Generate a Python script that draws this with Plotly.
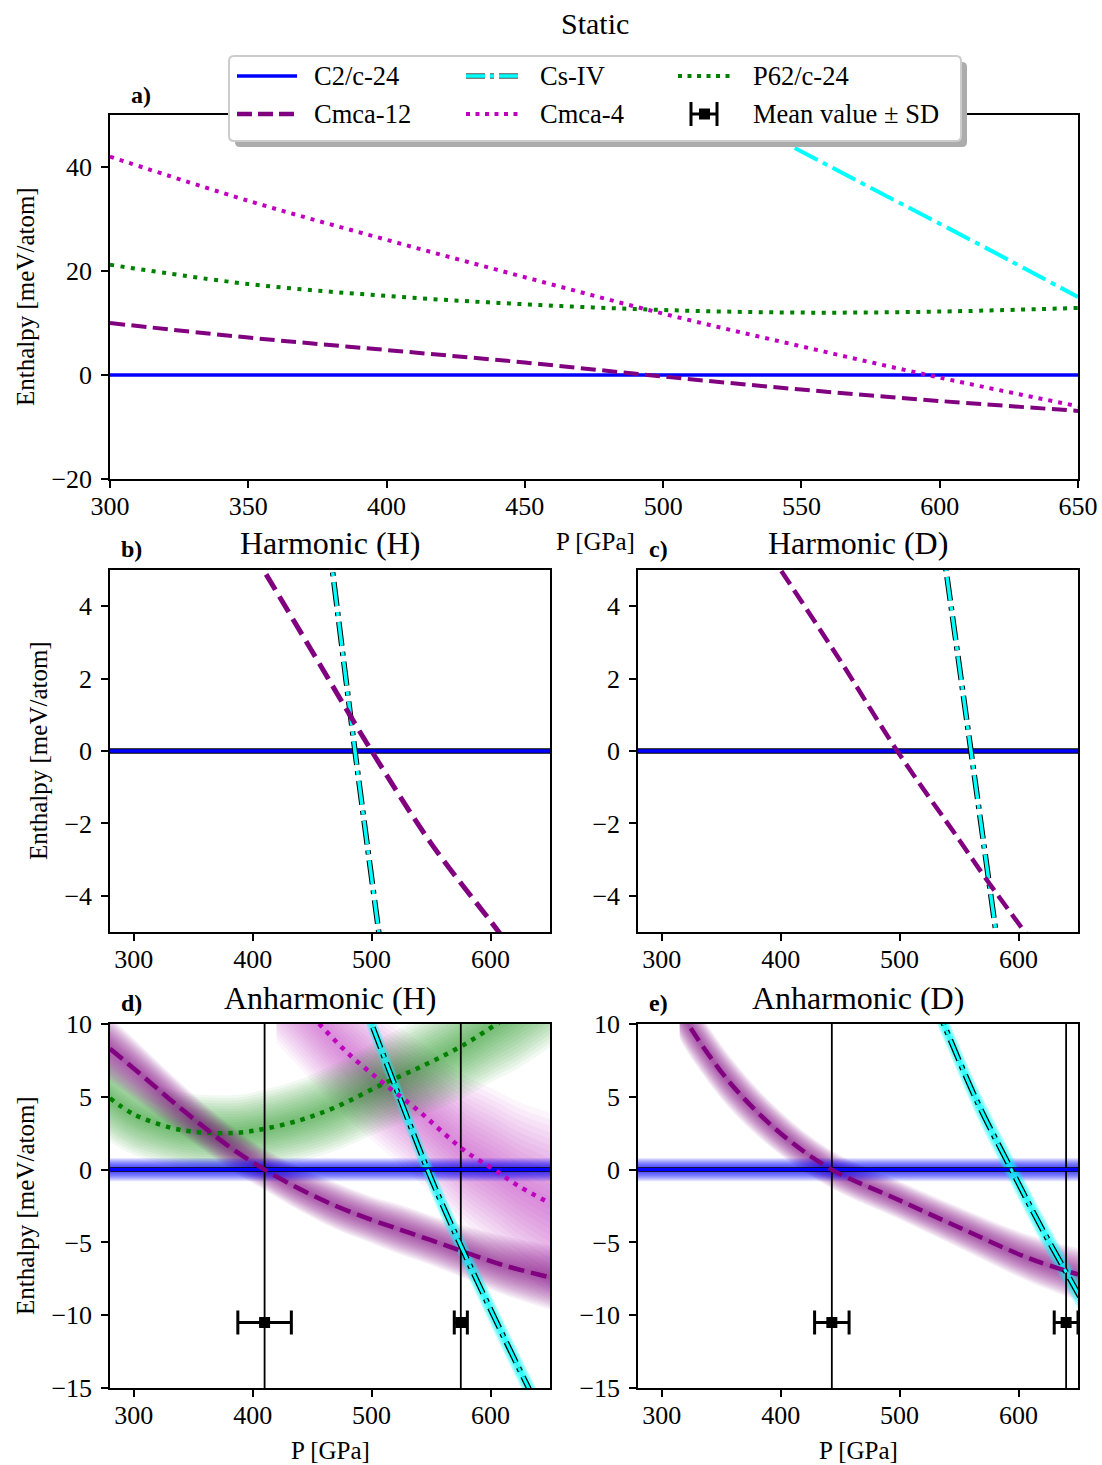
import plotly.graph_objects as go

W, H = 1102, 1465
FONT = "Liberation Serif"

# ---------------- data: enthalpy relative to C2/c-24 [meV/atom] vs P [GPa] ----------------
# a) static
static_p = [300, 350, 400, 450, 500, 550, 600, 650]
static_c2c = [0, 0, 0, 0, 0, 0, 0, 0]
static_cmca12 = [10.0, 7.2, 4.8, 2.4, -0.3, -2.8, -5.0, -6.9]
static_cmca4 = [42.0, 33.5, 26.0, 18.8, 11.8, 5.5, -0.5, -6.0]
static_p62 = [21.2, 17.5, 15.2, 13.6, 12.5, 12.0, 12.2, 12.9]
static_csiv_p = [520, 550, 575, 600, 625, 650]
static_csiv = [51.5, 43.0, 36.0, 29.1, 22.1, 15.0]

# b) harmonic (H)
harmH_c2c_p = [280, 650]
harmH_c2c = [0, 0]
harmH_cmca12_p = [400, 450, 500, 550, 600, 615]
harmH_cmca12 = [5.5, 2.75, 0.0, -2.55, -4.7, -5.35]
harmH_csiv_p = [460, 467, 486, 506, 512]
harmH_csiv = [6.85, 5.0, 0.0, -5.0, -6.5]

# c) harmonic (D)
harmD_c2c_p = [280, 650]
harmD_c2c = [0, 0]
harmD_cmca12_p = [390, 400, 450, 498, 550, 572, 612]
harmD_cmca12 = [5.5, 5.0, 2.5, 0.0, -2.45, -3.5, -5.3]
harmD_csiv_p = [535, 539, 560, 581, 585]
harmD_csiv = [5.9, 5.0, 0.0, -5.0, -5.9]

# d) anharmonic (H): mean curves and the half-width of their spread
anhH_c2c_p = [280, 650]
anhH_c2c = [0, 0]
anhH_c2c_hw = [0.8, 0.8]
anhH_cmca12_p = [280, 305, 330, 360, 385, 410, 440, 470, 500, 525, 550, 576, 610, 650]
anhH_cmca12 = [8.3, 6.6, 4.85, 2.85, 1.3, 0.0, -1.35, -2.5, -3.45, -4.15, -4.85, -5.6, -6.55, -7.4]
anhH_cmca12_hw = [2.2, 2.0, 1.8, 1.6, 1.5, 1.4, 1.5, 1.6, 1.6, 1.7, 1.7, 1.8, 2.0, 2.2]
anhH_p62_p = [280, 300, 330, 350, 372, 390, 410, 440, 470, 510, 545, 576, 605, 620, 650]
anhH_p62 = [4.9, 3.8, 2.9, 2.6, 2.5, 2.55, 2.8, 3.4, 4.3, 5.9, 7.2, 8.5, 10.0, 10.8, 12.6]
anhH_p62_hw = [3.0, 2.8, 2.6, 2.6, 2.6, 2.6, 2.7, 2.8, 3.0, 3.2, 3.4, 3.6, 3.8, 4.0, 4.2]
anhH_cmca4_p = [420, 445, 456, 480, 509, 540, 560, 579, 603, 625, 650]
anhH_cmca4 = [13.2, 11.0, 10.0, 8.0, 6.0, 4.0, 2.55, 1.25, 0.0, -1.2, -2.3]
anhH_cmca4_hw = [4.5, 4.5, 4.5, 4.5, 4.6, 4.8, 5.0, 5.2, 5.5, 5.8, 6.2]
anhH_csiv_p = [490, 500, 520, 547, 560, 576, 600, 632, 645]
anhH_csiv = [12.2, 10.0, 5.7, 0.0, -2.5, -5.4, -9.6, -15.0, -17.1]
anhH_csiv_hw = [1.1, 1.1, 1.1, 1.1, 1.1, 1.1, 1.1, 1.1, 1.1]
anhH_mean = [410, 575]
anhH_mean_sd = [22.5, 5.5]
anhH_mean_y = [-10.5, -10.5]

# e) anharmonic (D)
anhD_c2c_p = [280, 650]
anhD_c2c = [0, 0]
anhD_c2c_hw = [0.8, 0.8]
anhD_cmca12_p = [315, 322, 357, 399, 443, 497, 552, 609, 650]
anhD_cmca12 = [11.0, 10.0, 6.0, 2.55, 0.0, -2.0, -4.05, -6.1, -7.2]
anhD_cmca12_hw = [2.0, 2.0, 1.8, 1.5, 1.3, 1.3, 1.4, 1.6, 1.8]
anhD_csiv_p = [530, 537, 565, 594, 620, 650, 656]
anhD_csiv = [11.3, 10.0, 4.7, 0.0, -4.1, -8.5, -9.4]
anhD_csiv_hw = [1.1, 1.1, 1.1, 1.1, 1.1, 1.1, 1.1]
anhD_mean = [443, 640]
anhD_mean_sd = [14.5, 10.0]
anhD_mean_y = [-10.5, -10.5]

# ---------------- styling ----------------
BLUE = "#0000ff"
PURPLE = "#800080"
CYAN = "#00ffff"
MAGENTA = "#bf00bf"
GREEN = "#008000"

fig = go.Figure()


def px_x(px):
    return px / W


def px_y(py):
    return 1 - py / H


def add_line(ax, x, y, color, width, dash="solid", outline=0, shape="spline"):
    xa, ya = ax
    if outline:
        fig.add_trace(go.Scatter(x=x, y=y, mode="lines", xaxis=xa, yaxis=ya,
                                 line=dict(color="black", width=width + outline, dash=dash, shape=shape),
                                 hoverinfo="skip", showlegend=False))
    fig.add_trace(go.Scatter(x=x, y=y, mode="lines", xaxis=xa, yaxis=ya,
                             line=dict(color=color, width=width, dash=dash, shape=shape),
                             hoverinfo="skip", showlegend=False))


NLAYERS = 14
FRACS = [(NLAYERS - i) / NLAYERS for i in range(NLAYERS)]


def add_band(ax, x, y, hw, rgb, alpha):
    """Soft band: stacked translucent fills narrowing toward the curve."""
    xa, ya = ax
    for f in FRACS:
        lo = [v - f * s for v, s in zip(y, hw)]
        hi = [v + f * s for v, s in zip(y, hw)]
        fig.add_trace(go.Scatter(x=x, y=lo, mode="lines", xaxis=xa, yaxis=ya,
                                 line=dict(width=0, shape="spline", color="rgba(0,0,0,0)"),
                                 hoverinfo="skip", showlegend=False))
        fig.add_trace(go.Scatter(x=x, y=hi, mode="lines", xaxis=xa, yaxis=ya,
                                 line=dict(width=0, shape="spline", color="rgba(0,0,0,0)"),
                                 fill="tonexty", fillcolor=f"rgba({rgb},{alpha})",
                                 hoverinfo="skip", showlegend=False))


def add_means(ax, m, sd, y, ylo, yhi):
    xa, ya = ax
    for v in m:
        fig.add_trace(go.Scatter(x=[v, v], y=[ylo, yhi], mode="lines", xaxis=xa, yaxis=ya,
                                 line=dict(color="black", width=1.8), hoverinfo="skip", showlegend=False))
    fig.add_trace(go.Scatter(x=m, y=y, mode="markers", xaxis=xa, yaxis=ya,
                             marker=dict(symbol="square", size=11, color="black"),
                             error_x=dict(type="data", array=sd, color="black", thickness=3, width=12),
                             hoverinfo="skip", showlegend=False))


# a) static
A = ("x", "y")
add_line(A, static_p, static_c2c, BLUE, 3.5)
add_line(A, static_csiv_p, static_csiv, CYAN, 4, "26px,6px,5px,6px")
add_line(A, static_p, static_p62, GREEN, 4, "4px,6.5px")
add_line(A, static_p, static_cmca12, PURPLE, 4, "15px,6.5px")
add_line(A, static_p, static_cmca4, MAGENTA, 4, "4px,6px")

# b) harmonic (H)
B = ("x2", "y2")
add_line(B, harmH_c2c_p, harmH_c2c, BLUE, 3.5, outline=2)
add_line(B, harmH_csiv_p, harmH_csiv, CYAN, 3.5, "24px,6px,4px,6px", outline=2)
add_line(B, harmH_cmca12_p, harmH_cmca12, PURPLE, 5, "18px,8px")

# c) harmonic (D)
C = ("x3", "y3")
add_line(C, harmD_c2c_p, harmD_c2c, BLUE, 3.5, outline=2)
add_line(C, harmD_csiv_p, harmD_csiv, CYAN, 3.5, "24px,6px,4px,6px", outline=2)
add_line(C, harmD_cmca12_p, harmD_cmca12, PURPLE, 4.5, "16px,7px")

# d) anharmonic (H)
D = ("x4", "y4")
add_band(D, anhH_cmca4_p, anhH_cmca4, anhH_cmca4_hw, "191,0,191", 0.04)
add_band(D, anhH_p62_p, anhH_p62, anhH_p62_hw, "0,128,0", 0.05)
add_band(D, anhH_cmca12_p, anhH_cmca12, anhH_cmca12_hw, "128,0,128", 0.07)
add_band(D, anhH_c2c_p, anhH_c2c, anhH_c2c_hw, "0,0,255", 0.09)
add_band(D, anhH_csiv_p, anhH_csiv, anhH_csiv_hw, "0,255,255", 0.11)
add_means(D, anhH_mean, anhH_mean_sd, anhH_mean_y, -15, 10)
add_line(D, anhH_c2c_p, anhH_c2c, BLUE, 3, outline=1.5)
add_line(D, anhH_p62_p, anhH_p62, GREEN, 4.5, "4.5px,6px")
add_line(D, anhH_cmca4_p, anhH_cmca4, MAGENTA, 4.5, "4.5px,6px")
add_line(D, anhH_cmca12_p, anhH_cmca12, PURPLE, 4.5, "16px,7px")
add_line(D, anhH_csiv_p, anhH_csiv, CYAN, 3, "22px,6px,4px,6px", outline=2.5)

# e) anharmonic (D)
E = ("x5", "y5")
add_band(E, anhD_cmca12_p, anhD_cmca12, anhD_cmca12_hw, "128,0,128", 0.07)
add_band(E, anhD_c2c_p, anhD_c2c, anhD_c2c_hw, "0,0,255", 0.09)
add_band(E, anhD_csiv_p, anhD_csiv, anhD_csiv_hw, "0,255,255", 0.11)
add_means(E, anhD_mean, anhD_mean_sd, anhD_mean_y, -15, 10)
add_line(E, anhD_c2c_p, anhD_c2c, BLUE, 3, outline=1.5)
add_line(E, anhD_cmca12_p, anhD_cmca12, PURPLE, 4.5, "15px,7px")
add_line(E, anhD_csiv_p, anhD_csiv, CYAN, 3, "22px,6px,4px,6px", outline=2.5)


# ---------------- axes ----------------
def axis(rng, vals, dom, anchor, standoff):
    txt = [("\u2212" + str(abs(v))) if v < 0 else str(v) for v in vals]
    return dict(range=rng, domain=dom, anchor=anchor, tickvals=vals, ticktext=txt,
                ticks="outside", ticklen=7, tickwidth=1.5, tickcolor="black",
                ticklabelstandoff=standoff,
                showline=True, linecolor="black", linewidth=1.5, mirror=True,
                showgrid=False, zeroline=False, automargin=False,
                tickfont=dict(family=FONT, size=26, color="black"))


XL = [px_x(110), px_x(550)]
XR = [px_x(638), px_x(1078)]
YA = [px_y(479), px_y(115)]
YB = [px_y(932), px_y(570)]
YD = [px_y(1388), px_y(1024)]
pt = [300, 400, 500, 600]
XS, YS = -4, 4

fig.update_layout(
    xaxis=axis([300, 650], [300, 350, 400, 450, 500, 550, 600, 650], [px_x(110), px_x(1078)], "y", XS),
    yaxis=axis([-20, 50], [-20, 0, 20, 40], YA, "x", YS),
    xaxis2=axis([280, 650], pt, XL, "y2", XS),
    yaxis2=axis([-5, 5], [-4, -2, 0, 2, 4], YB, "x2", YS),
    xaxis3=axis([280, 650], pt, XR, "y3", XS),
    yaxis3=axis([-5, 5], [-4, -2, 0, 2, 4], YB, "x3", YS),
    xaxis4=axis([280, 650], pt, XL, "y4", XS),
    yaxis4=axis([-15, 10], [-15, -10, -5, 0, 5, 10], YD, "x4", YS),
    xaxis5=axis([280, 650], pt, XR, "y5", XS),
    yaxis5=axis([-15, 10], [-15, -10, -5, 0, 5, 10], YD, "x5", YS),
)

# ---------------- text ----------------
ann = []


def text(px, py, s, size=26, bold=False, angle=0, xanchor="center"):
    ann.append(dict(x=px_x(px), y=px_y(py), xref="paper", yref="paper", text=f"<b>{s}</b>" if bold else s,
                    showarrow=False, textangle=angle, xanchor=xanchor, yanchor="middle",
                    font=dict(family=FONT, size=size, color="black")))


text(595, 24, "Static", 30)
text(141, 95, "a)", 24, bold=True)
text(131, 549, "b)", 24, bold=True)
text(658, 549, "c)", 24, bold=True)
text(131, 1003, "d)", 24, bold=True)
text(658, 1003, "e)", 24, bold=True)
text(330, 543, "Harmonic (H)", 32)
text(858, 543, "Harmonic (D)", 32)
text(330, 998, "Anharmonic (H)", 32)
text(858, 998, "Anharmonic (D)", 32)
text(595, 541, "P [GPa]", 25)
text(330, 1450, "P [GPa]", 25)
text(858, 1450, "P [GPa]", 25)
text(25, 297, "Enthalpy [meV/atom]", 25, angle=-90)
text(38, 751, "Enthalpy [meV/atom]", 25, angle=-90)
text(25, 1206, "Enthalpy [meV/atom]", 25, angle=-90)

# ---------------- legend box ----------------
shapes = []


def rrect(x0, y0, x1, y1, r, fill, line_color, lw):
    X0, X1 = px_x(x0), px_x(x1)
    Y0, Y1 = px_y(y0), px_y(y1)
    rx, ry = r / W, r / H
    path = (f"M{X0 + rx},{Y0} L{X1 - rx},{Y0} Q{X1},{Y0} {X1},{Y0 - ry} "
            f"L{X1},{Y1 + ry} Q{X1},{Y1} {X1 - rx},{Y1} L{X0 + rx},{Y1} "
            f"Q{X0},{Y1} {X0},{Y1 + ry} L{X0},{Y0 - ry} Q{X0},{Y0} {X0 + rx},{Y0} Z")
    shapes.append(dict(type="path", path=path, xref="paper", yref="paper", layer="above",
                       fillcolor=fill, line=dict(color=line_color, width=lw)))


def seg(x0, y0, x1, y1, color, width, dash="solid"):
    shapes.append(dict(type="line", x0=px_x(x0), y0=px_y(y0), x1=px_x(x1), y1=px_y(y1),
                       xref="paper", yref="paper", layer="above",
                       line=dict(color=color, width=width, dash=dash)))


rrect(235, 62, 967, 147, 5, "#acacac", "#acacac", 0)
rrect(229, 56, 961, 141, 5, "white", "#cccccc", 2)

# legend samples
seg(237, 76, 297, 76, BLUE, 3.5)
seg(237, 114, 297, 114, PURPLE, 4.5, "15px,6px")
seg(466, 76, 521, 76, "#555555", 5.5, "19px,5px,4px,5px")
seg(466, 76, 521, 76, CYAN, 3.5, "19px,5px,4px,5px")
seg(466, 114, 521, 114, MAGENTA, 4, "4px,5.5px")
seg(678, 76, 733, 76, GREEN, 4, "4px,5.5px")
seg(691, 114, 717, 114, "black", 3)
seg(691, 102, 691, 126, "black", 3)
seg(717, 102, 717, 126, "black", 3)
shapes.append(dict(type="rect", x0=px_x(699), x1=px_x(710), y0=px_y(108.5), y1=px_y(119.5),
                   xref="paper", yref="paper", layer="above", fillcolor="black", line=dict(width=0)))

text(312, 76, "C2/c-24", 26.5, xanchor="left")
text(312, 114, "Cmca-12", 26.5, xanchor="left")
text(538, 76, "Cs-IV", 26.5, xanchor="left")
text(538, 114, "Cmca-4", 26.5, xanchor="left")
text(751, 76, "P62/c-24", 26.5, xanchor="left")
text(751, 114, "Mean value \u00b1 SD", 26.5, xanchor="left")

fig.update_layout(
    width=W, height=H,
    margin=dict(l=0, r=0, t=0, b=0),
    paper_bgcolor="white", plot_bgcolor="white",
    showlegend=False,
    annotations=ann, shapes=shapes,
    font=dict(family=FONT, color="black"),
)

fig.write_html("out.html")
